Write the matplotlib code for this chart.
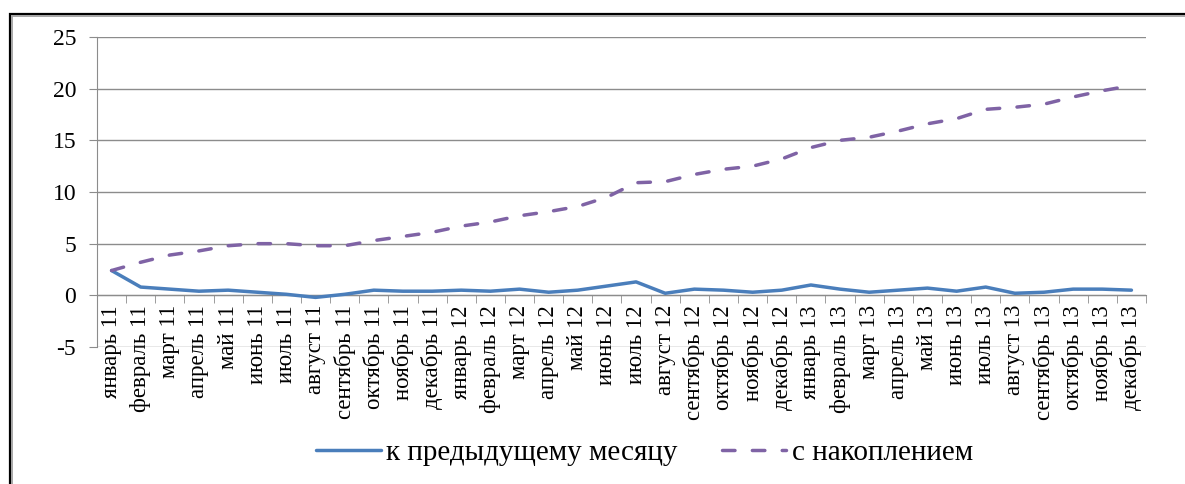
import matplotlib
matplotlib.use("Agg")
import matplotlib.pyplot as plt
from matplotlib.patches import Rectangle
from matplotlib.ticker import FixedLocator

# месяцы 2011-2013
months = ["январь", "февраль", "март", "апрель", "май", "июнь",
          "июль", "август", "сентябрь", "октябрь", "ноябрь", "декабрь"]
years = ["11", "12", "13"]
labels = [m + " " + y for y in years for m in months]

# прирост к предыдущему месяцу, %
monthly = [2.4, 0.8, 0.6, 0.4, 0.5, 0.3, 0.1, -0.2, 0.1, 0.5, 0.4, 0.4,
           0.5, 0.4, 0.6, 0.3, 0.5, 0.9, 1.3, 0.2, 0.6, 0.5, 0.3, 0.5,
           1.0, 0.6, 0.3, 0.5, 0.7, 0.4, 0.8, 0.2, 0.3, 0.6, 0.6, 0.5]

# прирост с накоплением, %
cumulative = [2.4, 3.2, 3.9, 4.3, 4.8, 5.0, 5.0, 4.8, 4.8, 5.3, 5.7, 6.1,
              6.7, 7.1, 7.7, 8.1, 8.6, 9.5, 10.9, 11.0, 11.7, 12.2, 12.5, 13.2,
              14.3, 15.0, 15.3, 15.9, 16.6, 17.1, 18.0, 18.2, 18.5, 19.2, 19.8, 20.3]

plt.rcParams['font.family'] = 'serif'
plt.rcParams['font.serif'] = ['Liberation Serif', 'DejaVu Serif']
plt.rcParams['axes.unicode_minus'] = False
grid_color = '#8c8c8c'

fig = plt.figure(figsize=(11.85, 4.84), dpi=100)
ax = fig.add_axes([97/1185, 1-347/484, (1146-97)/1185, (347-37)/484])

x = list(range(len(labels)))
ax.plot(x, monthly, color='#4a7ebb', lw=2.5, solid_capstyle='round',
        label='к предыдущему месяцу', zorder=3)
ax.plot(x, cumulative, color='#7f63a5', lw=2.5, dashes=(3.6, 5.0),
        dash_capstyle='round', label='с накоплением', zorder=3)

ax.set_xlim(-0.5, len(labels) - 0.5)
ax.set_ylim(-5, 25)
ax.set_yticks(range(-5, 26, 5))
ax.yaxis.grid(True, color=grid_color, lw=1)
ax.set_axisbelow(True)

for s in ['top', 'right']:
    ax.spines[s].set_visible(False)
ax.spines['left'].set_color(grid_color)
ax.spines['bottom'].set_color(grid_color)
ax.spines['bottom'].set_position(('data', 0))

ax.set_xticks(x)
ax.set_xticklabels(labels, rotation=90, fontsize=16.5)
ax.xaxis.set_minor_locator(FixedLocator([i + 0.5 for i in range(len(labels))]))
ax.tick_params(axis='x', which='major', length=0, pad=7)
ax.tick_params(axis='x', which='minor', length=6, color=grid_color, direction='out')
ax.tick_params(axis='y', length=6, color=grid_color, pad=9, labelsize=17)

ax.legend(loc='center', bbox_to_anchor=(0.544, 0.064), bbox_transform=fig.transFigure,
          ncol=2, frameon=False, fontsize=21, handlelength=2.2,
          handletextpad=0.2, columnspacing=1.5)

# рамка вокруг диаграммы
fig.patches.append(Rectangle((9.5/1185, -0.1), 1.2, 1.1 - 13.5/484,
                             transform=fig.transFigure, fill=False,
                             edgecolor='black', lw=1.6))
fig.patches.append(Rectangle((12/1185, -0.1), 1.2, 1.1 - 16/484,
                             transform=fig.transFigure, fill=False,
                             edgecolor='#a0a0a0', lw=1.3))

fig.savefig('out.png', dpi=100)
